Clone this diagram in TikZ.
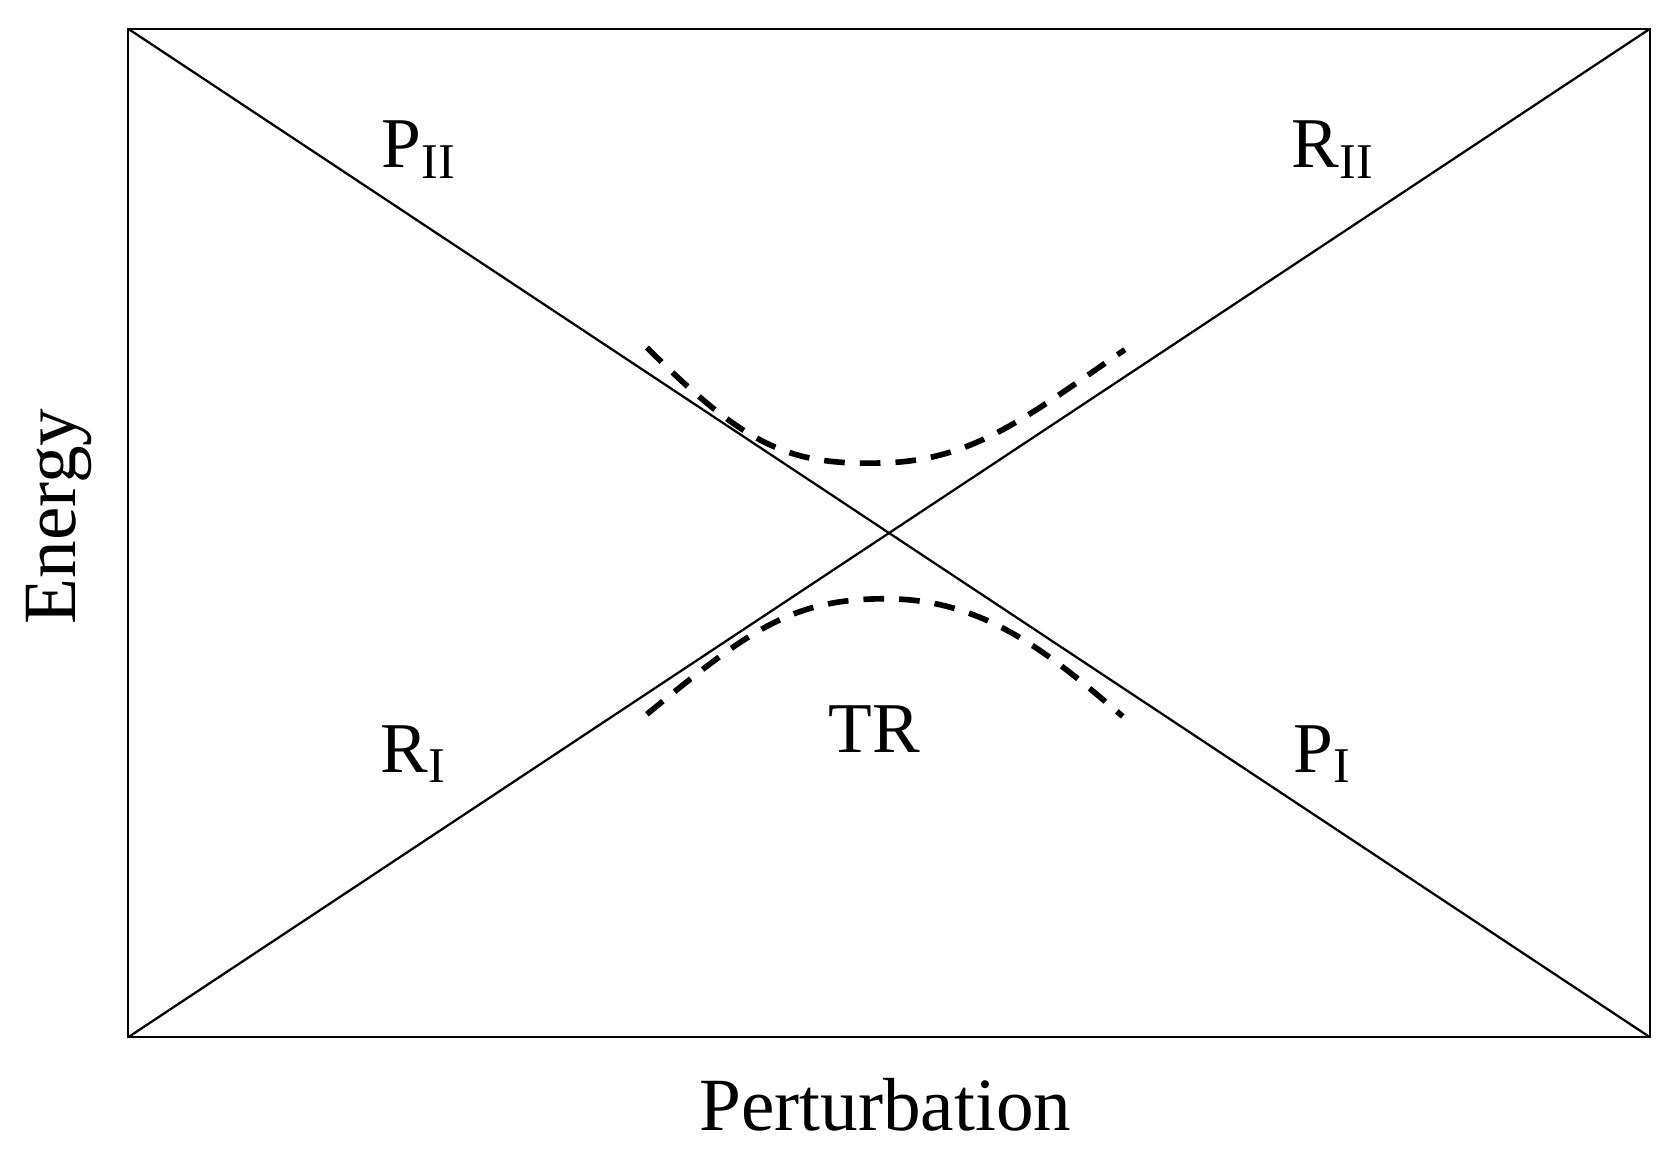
\documentclass[tikz,border=0pt]{standalone}
\usepackage{fontspec}
\setmainfont{Liberation Serif}
\begin{document}
\begin{tikzpicture}[x=0.01cm,y=-0.01cm,
  thin line/.style={line width=0.6pt},
  dash curve/.style={line width=1.5pt,dash pattern=on 5.5pt off 4pt},
  lab/.style={font=\fontsize{19}{22}\selectfont,inner sep=0pt}]
\useasboundingbox (0,0) rectangle (1560,1082);
\coordinate (tl) at (120,27); \coordinate (tr) at (1543,27);
\coordinate (bl) at (120,970); \coordinate (br) at (1543,970);
\draw[thin line] (tl) rectangle (br);
\draw[thin line] (tl) -- (br);
\draw[thin line] (bl) -- (tr);
\coordinate (u1) at (605,325); \coordinate (u2) at (1052,327);
\coordinate (l1) at (605,668); \coordinate (l2) at (1050,670);
\draw[dash curve] (u1) .. controls (700,420) and (740,435) .. (825,433) .. controls (910,431) and (960,390) .. (u2);
\draw[dash curve] (l1) .. controls (700,590) and (740,560) .. (828,560) .. controls (920,560) and (980,610) .. (l2);
\node[lab] (p2) at (392,140) {P\textsubscript{II}};
\node[lab] (r2) at (1247,140) {R\textsubscript{II}};
\node[lab] (r1) at (387,705) {R\textsubscript{I}};
\node[lab] (p1) at (1237,705) {P\textsubscript{I}};
\node[lab] (tr0) at (818,682) {TR};
\node[lab,font=\fontsize{20}{24}\selectfont,rotate=90] (en) at (55,483) {Energy};
\node[lab,font=\fontsize{20}{24}\selectfont] (pe) at (828,1033) {Perturbation};
\end{tikzpicture}
\end{document}
